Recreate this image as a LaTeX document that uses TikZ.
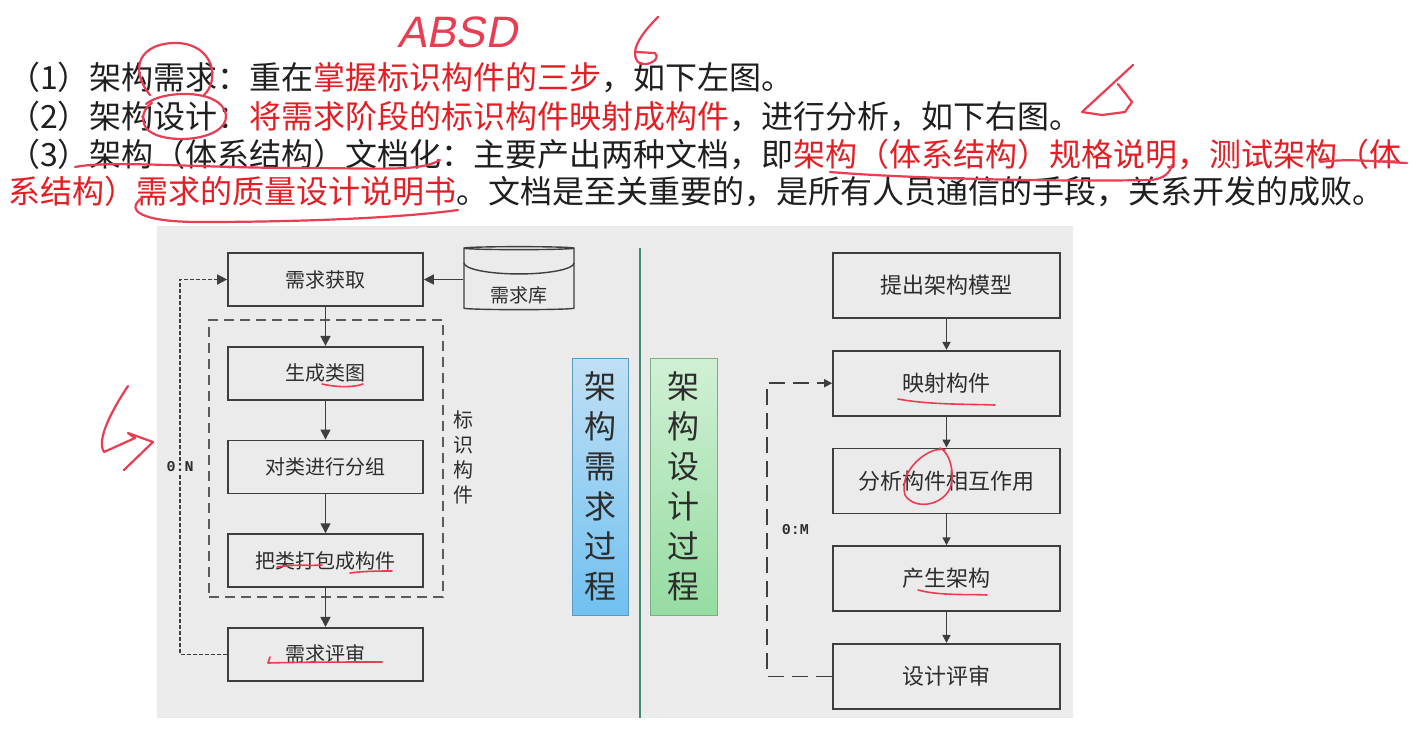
\documentclass[tikz,border=0pt]{standalone}
\usepackage{fontspec}
\setmainfont{Noto Sans CJK SC}
\newfontfamily\ratiofont{Liberation Mono}
\newfontfamily\handfont[FakeSlant=0.2]{Liberation Sans}
\usetikzlibrary{positioning,arrows.meta,shapes.geometric}

\definecolor{panelgray}{RGB}{235,235,235}
\definecolor{boxline}{RGB}{62,62,62}
\definecolor{txtgray}{RGB}{45,45,45}
\definecolor{keyred}{RGB}{228,30,36}
\definecolor{penred}{RGB}{234,60,82}
\definecolor{reqblueA}{RGB}{192,224,244}
\definecolor{reqblueB}{RGB}{112,192,240}
\definecolor{desgreenA}{RGB}{208,240,212}
\definecolor{desgreenB}{RGB}{150,220,162}
\definecolor{splitgreen}{RGB}{62,140,112}

\begin{document}
\begin{tikzpicture}[
  x=1pt, y=-1pt,
  textline/.style={anchor=base west, inner sep=0pt, font=\fontsize{32}{32}\selectfont, text=black!88},
  reqstep/.style={draw=boxline, line width=1.7pt, fill=panelgray, minimum width=195pt, minimum height=53pt, inner sep=0pt, font=\fontsize{20}{20}\selectfont, text=txtgray},
  desstep/.style={draw=boxline, line width=1.7pt, fill=panelgray, minimum width=227pt, minimum height=65pt, inner sep=0pt, font=\fontsize{22}{22}\selectfont, text=txtgray},
  phasebox/.style={line width=0.8pt, minimum height=257pt, inner sep=0pt, align=center, font=\fontsize{32}{40}\selectfont, text=txtgray},
  flow/.style={draw=boxline, line width=1.6pt, -{Triangle[length=10pt,width=10pt]}},
  thinflow/.style={draw=boxline, line width=1.6pt, -{Triangle[length=8pt,width=8pt]}},
  ratiolbl/.style={font=\ratiofont\bfseries\fontsize{15}{15}\selectfont, text=txtgray, inner sep=1pt},
  penmark/.style={draw=penred, line width=2.2pt, line cap=round, line join=round},
  thinpen/.style={draw=penred, line width=1.6pt, line cap=round, line join=round}
]
\useasboundingbox (0,0) rectangle (1418,740);
\fill[white] (0,0) rectangle (1418,740);
\fill[panelgray] (157,226) rectangle (1073,718);

% notes above the figure
\node[textline] (t1) at (8,89) {（1）架构需求：重在\textcolor{keyred}{掌握标识构件的三步}，如下左图。};
\node[textline] (t2) at (8,128) {（2）架构设计：\textcolor{keyred}{将需求阶段的标识构件映射成构件}，进行分析，如下右图。};
\node[textline] (t3) at (8,166) {（3）架构（体系结构）文档化：主要产出两种文档，即\textcolor{keyred}{架构（体系结构）规格说明，测试架构（体}};
\node[textline] (t4) at (8,203) {\textcolor{keyred}{系结构）需求的质量设计说明书}。文档是至关重要的，是所有人员通信的手段，关系开发的成败。};

% requirement process (left)
\node[reqstep] (get) at (325.5,279.5) {需求获取};
\node[reqstep, below=39pt of get] (cls) {生成类图};
\node[reqstep, below=39pt of cls] (grp) {对类进行分组};
\node[reqstep, below=39pt of grp] (pkg) {把类打包成构件};
\node[reqstep, below=39pt of pkg] (rev) {需求评审};
\node[draw=boxline!85, line width=1.5pt, dash pattern=on 10pt off 6pt, minimum width=234pt, minimum height=277pt] (ident) at (326,458.5) {};
\node[align=center, font=\fontsize{20}{25}\selectfont, text=txtgray] (identlbl) at (463,457) {标\\识\\构\\件};
\node[shape=cylinder, shape border rotate=90, aspect=0.45, draw=boxline, line width=1.4pt, fill=panelgray, minimum width=110pt, minimum height=63pt,
  label={[yshift=-16pt, font=\fontsize{19}{19}\selectfont, text=txtgray]center:需求库}] (repo) at (519,279.5) {};
\draw[boxline, line width=1.4pt] ([shift={(-55,17)}]repo.north) arc[start angle=180, end angle=360, x radius=55pt, y radius=11pt];
\draw[flow] (repo) -- (get);
\draw[flow] (get) -- (cls);
\draw[flow] (cls) -- (grp);
\draw[flow] (grp) -- (pkg);
\draw[flow] (pkg) -- (rev);
\draw[flow, dash pattern=on 4pt off 2pt] (rev.west) -- ++(-47,0) |- node[ratiolbl, fill=panelgray, pos=0.25] (nratio) {0:N} (get.west);

% phase labels
\draw[splitgreen, line width=2.5pt] (640,248) -- (640,718);
\node[phasebox, minimum width=56pt, draw=reqblueB!80!black, top color=reqblueA, bottom color=reqblueB] (reqphase) at (600,486.5) {架\\构\\需\\求\\过\\程};
\node[phasebox, minimum width=67pt, draw=desgreenB!80!black, top color=desgreenA, bottom color=desgreenB] (desphase) at (683.5,486.5) {架\\构\\设\\计\\过\\程};

% design process (right)
\node[desstep] (prop) at (946.5,285.5) {提出架构模型};
\node[desstep, below=31pt of prop] (map) {映射构件};
\node[desstep, below=31pt of map] (ana) {分析构件相互作用};
\node[desstep, below=31pt of ana] (gen) {产生架构};
\node[desstep, below=31pt of gen] (drev) {设计评审};
\draw[thinflow] (prop) -- (map);
\draw[thinflow] (map) -- (ana);
\draw[thinflow] (ana) -- (gen);
\draw[thinflow] (gen) -- (drev);
\draw[thinflow, dash pattern=on 16pt off 8pt] (drev.west) -- ++(-65,0) |- node[ratiolbl, pos=0.25, right=13pt] (mratio) {0:M} (map.west);

% pen marks
\node[font=\handfont\fontsize{44}{44}\selectfont, text=penred] (absd) at (457,32) {ABSD};
\draw[penmark] (150,95) .. controls (128,68) and (140,42) .. (178,43) .. controls (214,45) and (220,80) .. (204,95);
\draw[penmark] (146,104) .. controls (162,90) and (222,88) .. (226,115) .. controls (228,142) and (160,146) .. (146,128) .. controls (140,118) and (144,108) .. (152,103);
\draw[penmark] (75,167) .. controls (110,160) and (200,168) .. (300,168) .. controls (380,168) and (420,172) .. (440,160);
\draw[penmark] (830,172) .. controls (900,178) and (1050,182) .. (1150,180) .. controls (1165,179) and (1170,172) .. (1172,165);
\draw[penmark] (1320,162) .. controls (1350,158) and (1380,162) .. (1407,163);
\draw[penmark] (142,198) .. controls (125,210) and (140,222) .. (200,222) .. controls (300,222) and (400,218) .. (458,210);
\draw[penmark] (658,17) .. controls (645,30) and (628,50) .. (638,62) .. controls (645,68) and (662,60) .. (655,53) -- (636,52);
\draw[penmark] (1133,65) -- (1082,112) -- (1102,115) -- (1125,112) -- (1132,102) -- (1118,84);
\draw[penmark] (128,386) .. controls (112,410) and (96,440) .. (104,452) -- (135,438) -- (128,433) -- (153,442) -- (124,470);
\draw[thinpen] (322,384) .. controls (340,388) and (355,387) .. (363,384);
\draw[thinpen] (277,567) .. controls (295,564) and (310,566) .. (322,565);
\draw[thinpen] (350,573) .. controls (365,571) and (380,571) .. (392,571);
\draw[thinpen] (270,657) -- (268,663) .. controls (300,662) and (350,662) .. (382,662);
\draw[thinpen] (898,399) .. controls (930,405) and (970,404) .. (995,405);
\draw[thinpen] (945,450) .. controls (930,445) and (898,470) .. (905,495) .. controls (915,512) and (950,505) .. (952,480) .. controls (953,465) and (948,452) .. (940,448);
\draw[thinpen] (918,590) .. controls (940,596) and (970,594) .. (987,595);
\end{tikzpicture}
\end{document}
